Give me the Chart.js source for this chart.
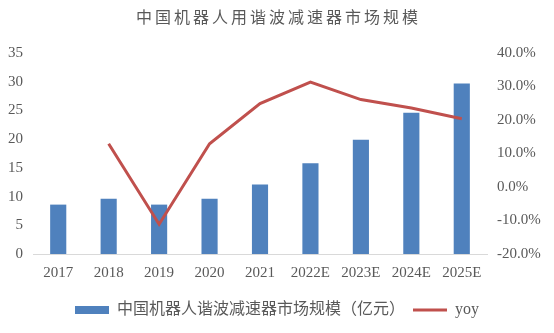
<!DOCTYPE html>
<html>
<head>
<meta charset="utf-8">
<script src="https://cdn.jsdelivr.net/npm/chart.js@4/dist/chart.umd.min.js"></script>
<style>
html,body{margin:0;padding:0;background:#fff;}
#wrap{width:554px;height:333px;position:relative;}
</style>
</head>
<body>
<div id="wrap"><canvas id="c"></canvas></div>
<script>
const titleText = '中国机器人用谐波减速器市场规模';
const categories = ['2017','2018','2019','2020','2021','2022E','2023E','2024E','2025E'];
const marketSize = [8.6, 9.6, 8.6, 9.6, 12.1, 15.8, 19.9, 24.6, 29.7];
const yoy = [null, 12.9, -11.1, 12.9, 24.9, 31.3, 26.1, 23.6, 20.4];
const seriesNames = ['中国机器人谐波减速器市场规模（亿元）', 'yoy'];
const leftTicks = [0, 35, 5];
const rightTicks = [-20, 40, 10];

const tickFont = {family: '"Liberation Serif", "Times New Roman", serif', size: 15};
const grey = '#595959';

const titlePlugin = {
  id: 'spacedTitle',
  afterDraw(chart) {
    const ctx = chart.ctx;
    ctx.save();
    ctx.font = '16px "Noto Sans CJK SC"';
    ctx.fillStyle = grey;
    ctx.textBaseline = 'middle';
    ctx.textAlign = 'left';
    if ('letterSpacing' in ctx) ctx.letterSpacing = '3px';
    const w = ctx.measureText(titleText).width - 3;
    ctx.fillText(titleText, chart.width / 2 - w / 2, 17);
    ctx.restore();
  }
};

new Chart(document.getElementById('c'), {
  data: {
    labels: categories,
    datasets: [
      {
        type: 'bar',
        label: seriesNames[0],
        data: marketSize,
        backgroundColor: '#4F81BD',
        borderWidth: 0,
        barPercentage: 0.32,
        categoryPercentage: 1.0,
        yAxisID: 'y',
        order: 1
      },
      {
        type: 'line',
        label: seriesNames[1],
        data: yoy,
        borderColor: '#C0504D',
        backgroundColor: '#C0504D',
        borderWidth: 3,
        pointRadius: 0,
        tension: 0,
        spanGaps: false,
        yAxisID: 'y1',
        order: 0
      }
    ]
  },
  options: {
    responsive: true,
    maintainAspectRatio: false,
    animation: false,
    layout: {padding: {top: 53, bottom: 5, left: 0, right: 0}},
    plugins: {
      title: {display: false},
      tooltip: {enabled: false},
      legend: {
        position: 'bottom',
        labels: {
          color: grey,
          font: {family: '"Liberation Serif", "Noto Sans CJK SC"', size: 16},
          usePointStyle: true,
          pointStyleWidth: 34,
          boxHeight: 8,
          padding: 8,
          sort: (a, b) => a.datasetIndex - b.datasetIndex,
          generateLabels(chart) {
            const items = Chart.defaults.plugins.legend.labels.generateLabels(chart);
            items.forEach(it => {
              if (it.datasetIndex === 0) { it.pointStyle = 'rect'; it.lineWidth = 0; }
              else { it.pointStyle = 'line'; it.lineWidth = 3; it.strokeStyle = '#C0504D'; }
            });
            return items;
          }
        }
      }
    },
    scales: {
      x: {
        grid: {display: false, drawTicks: false},
        border: {display: true, color: '#D9D9D9', width: 1},
        ticks: {color: grey, font: tickFont, padding: 10, maxRotation: 0, autoSkip: false},
        afterFit(s) { s.height = 40; }
      },
      y: {
        position: 'left',
        min: leftTicks[0], max: leftTicks[1],
        grid: {display: false, drawTicks: false},
        border: {display: false},
        ticks: {stepSize: leftTicks[2], color: grey, font: tickFont, padding: 10},
        afterFit(s) { s.width = 33; }
      },
      y1: {
        position: 'right',
        min: rightTicks[0], max: rightTicks[1],
        grid: {display: false, drawTicks: false},
        border: {display: false},
        ticks: {stepSize: rightTicks[2], color: grey, font: tickFont, padding: 10,
          callback: v => v.toFixed(1) + '%'},
        afterFit(s) { s.width = 67; }
      }
    }
  },
  plugins: [titlePlugin]
});
</script>
</body>
</html>
